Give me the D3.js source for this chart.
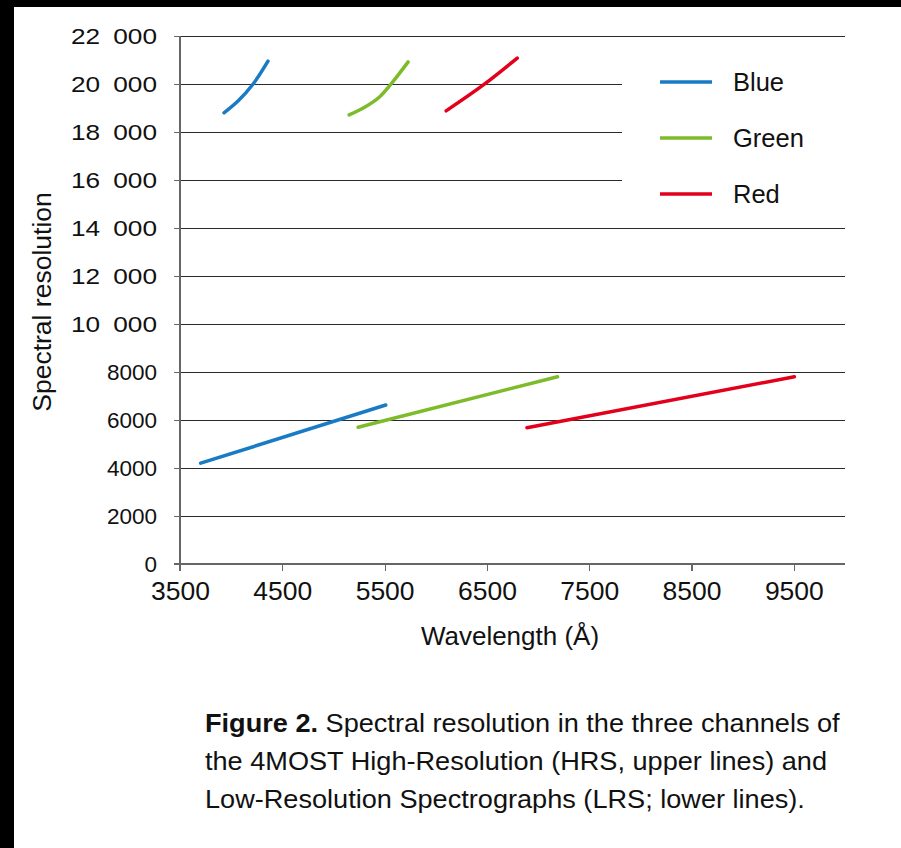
<!DOCTYPE html>
<html>
<head>
<meta charset="utf-8">
<script src="https://cdn.jsdelivr.net/npm/d3@7"></script>
<style>
  body { margin: 0; background: #fff; }
  svg { font-family: "Liberation Sans", Arial, sans-serif; }
  .grid line { stroke: #2a2a2a; stroke-width: 1; shape-rendering: crispEdges; }
  .axis path, .axis line { stroke: #666; stroke-width: 1.2; shape-rendering: crispEdges; }
  .axis text { fill: #111; }
  .series { fill: none; stroke-width: 3.5; stroke-linecap: round; stroke-linejoin: round; }
  text.title { fill: #111; }
  text.legend { fill: #111; }
  text.caption { fill: #111; }
</style>
</head>
<body>
<script>
  var width = 901;
  var height = 848;

  // wavelength (Å) and spectral resolution for each channel
  var channels = ["Blue", "Green", "Red"];
  var colors = ["#1a7bc5", "#7dbb2a", "#e3001b"];

  // HRS, upper lines
  var hrsBlueX = [3930, 4067, 4215, 4360];
  var hrsBlueY = [18800, 19290, 20000, 20950];
  var hrsGreenX = [5153, 5300, 5450, 5563, 5730];
  var hrsGreenY = [18710, 19020, 19460, 20000, 20920];
  var hrsRedX = [6101, 6465, 6796];
  var hrsRedY = [18880, 19960, 21080];

  // LRS, lower lines
  var lrsBlueX = [3702, 5511];
  var lrsBlueY = [4200, 6625];
  var lrsGreenX = [5241, 7190];
  var lrsGreenY = [5700, 7800];
  var lrsRedX = [6891, 9505];
  var lrsRedY = [5680, 7800];

  var xTicks = [3500, 4500, 5500, 6500, 7500, 8500, 9500];
  var yTicks = [0, 2000, 4000, 6000, 8000, 10000, 12000, 14000, 16000, 18000, 20000, 22000];
  var shortGrid = [16000, 18000, 20000];   // gridlines cut short by the legend

  var captionLines = [
    ["Figure 2.", " Spectral resolution in the three channels of"],
    ["", "the 4MOST High-Resolution (HRS, upper lines) and"],
    ["", "Low-Resolution Spectrographs (LRS; lower lines)."]
  ];

  var svg = d3.select("body").append("svg")
    .attr("width", width)
    .attr("height", height);

  svg.append("rect").attr("width", width).attr("height", height).attr("fill", "#fff");
  /* black strips of the scanned page */
  svg.append("rect").attr("x", 0).attr("y", 0).attr("width", width).attr("height", 7).attr("fill", "#000");
  svg.append("rect").attr("x", 0).attr("y", 0).attr("width", 14).attr("height", height).attr("fill", "#000");

  var x = d3.scaleLinear().domain([3500, 10000]).range([180, 845]);
  var y = d3.scaleLinear().domain([0, 22000]).range([564, 36]);

  var fmt = function(d) {
    return d >= 10000 ? d3.format(",")(d).replace(",", "\u2002") : String(d);
  };

  /* Draw grid */
  svg.append("g").attr("class", "grid")
    .selectAll("line")
    .data(yTicks.slice(1))
    .enter().append("line")
    .attr("x1", x(3500))
    .attr("x2", function(d) { return shortGrid.indexOf(d) >= 0 ? 622 : x(10000); })
    .attr("y1", function(d) { return Math.round(y(d)) + 0.5; })
    .attr("y2", function(d) { return Math.round(y(d)) + 0.5; });

  /* Draw y axis */
  var yAxis = svg.append("g").attr("class", "axis")
    .attr("transform", "translate(" + x(3500) + ",0)")
    .call(d3.axisLeft(y).tickValues(yTicks).tickFormat(fmt).tickSize(6).tickSizeOuter(0).tickPadding(17));
  yAxis.selectAll("text").style("font-size", "22.5px");
  // the five-digit labels are set wider in the print
  yAxis.selectAll("text")
    .filter(function(d) { return d >= 10000; })
    .attr("textLength", 86)
    .attr("lengthAdjust", "spacingAndGlyphs");
  yAxis.select(".domain").attr("d", "M0," + y(22000) + "V" + (y(0) + 7));

  /* Draw x axis */
  var xAxis = svg.append("g").attr("class", "axis")
    .attr("transform", "translate(0," + y(0) + ")")
    .call(d3.axisBottom(x).tickValues(xTicks).tickSize(7).tickSizeOuter(0).tickPadding(10).tickFormat(d3.format("d")));
  xAxis.selectAll("text").style("font-size", "26.5px");
  xAxis.select(".domain").attr("d", "M" + (x(3500) - 6) + ",0H" + x(10000));

  /* Axis titles */
  svg.append("text").attr("class", "title")
    .attr("x", 510).attr("y", 645)
    .attr("text-anchor", "middle")
    .style("font-size", "26px")
    .text("Wavelength (Å)");

  svg.append("text").attr("class", "title")
    .attr("transform", "translate(51,302) rotate(-90)")
    .attr("text-anchor", "middle")
    .style("font-size", "26.5px")
    .text("Spectral resolution");

  /* Draw series */
  var line = d3.line()
    .x(function(d) { return x(d[0]); })
    .y(function(d) { return y(d[1]); })
    .curve(d3.curveCatmullRom);

  var series = [
    [hrsBlueX, hrsBlueY, 0], [hrsGreenX, hrsGreenY, 1], [hrsRedX, hrsRedY, 2],
    [lrsBlueX, lrsBlueY, 0], [lrsGreenX, lrsGreenY, 1], [lrsRedX, lrsRedY, 2]
  ];

  svg.selectAll("path.series")
    .data(series)
    .enter().append("path")
    .attr("class", "series")
    .attr("stroke", function(d) { return colors[d[2]]; })
    .attr("d", function(d) { return line(d3.zip(d[0], d[1])); });

  /* Legend */
  var legend = svg.selectAll("g.legend")
    .data(channels)
    .enter().append("g")
    .attr("transform", function(d, i) { return "translate(660," + (82 + i * 56) + ")"; });

  legend.append("line")
    .attr("x1", 0).attr("x2", 52)
    .attr("stroke", function(d, i) { return colors[i]; })
    .attr("stroke-width", 3.5);

  legend.append("text").attr("class", "legend")
    .attr("x", 73).attr("y", 9)
    .style("font-size", "25.5px")
    .text(function(d) { return d; });

  /* Caption, slightly widened like the printed figure */
  var cap = svg.selectAll("text.caption")
    .data(captionLines)
    .enter().append("text")
    .attr("class", "caption")
    .attr("transform", function(d, i) { return "translate(205," + (732 + i * 38) + ") scale(1.085,1)"; })
    .style("font-size", "25px");

  cap.append("tspan").attr("font-weight", "bold").text(function(d) { return d[0]; });
  cap.append("tspan").text(function(d) { return d[1]; });
</script>
</body>
</html>
